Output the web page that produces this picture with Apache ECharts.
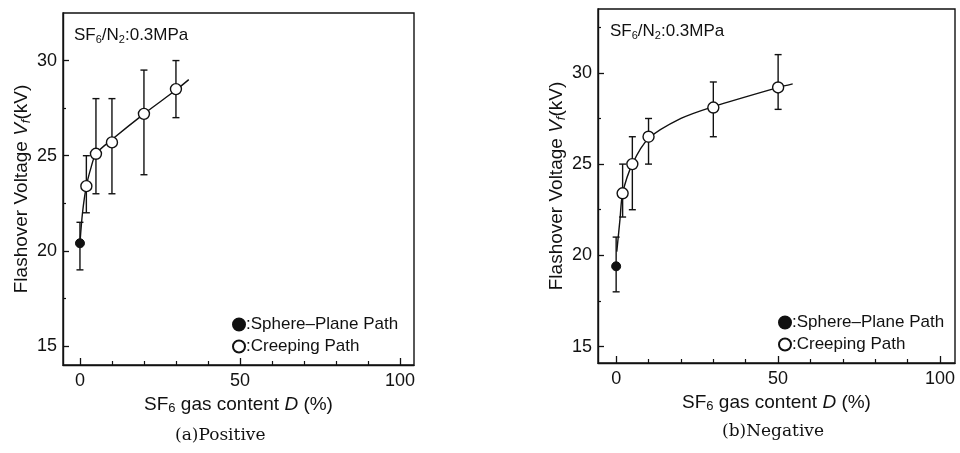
<!DOCTYPE html>
<html>
<head>
<meta charset="utf-8">
<script src="https://cdn.jsdelivr.net/npm/echarts@6/dist/echarts.min.js"></script>
<style>html,body{margin:0;padding:0;background:#fff}#c{width:960px;height:453px}</style>
</head>
<body>
<div id="c"></div>
<script>
// ---- data: (a) Positive ----
const posSphereX = [0];
const posSphereY = [20.4];
const posSphereLow = [19.0];
const posSphereHigh = [21.5];
const posCreepX = [2, 5, 10, 20, 30];
const posCreepY = [23.4, 25.1, 25.7, 27.2, 28.5];
const posCreepLow = [22.0, 23.0, 23.0, 24.0, 27.0];
const posCreepHigh = [25.0, 28.0, 28.0, 29.5, 30.0];
const posFitX = [0, 0.8, 2, 3.5, 5, 10, 20, 30, 34];
const posFitY = [20.4, 22.0, 23.4, 24.4, 25.1, 25.85, 27.2, 28.45, 29.0];
// ---- data: (b) Negative ----
const negSphereX = [0];
const negSphereY = [19.4];
const negSphereLow = [18.0];
const negSphereHigh = [21.0];
const negCreepX = [2, 5, 10, 30, 50];
const negCreepY = [23.4, 25.0, 26.5, 28.1, 29.2];
const negCreepLow = [22.1, 22.5, 25.0, 26.5, 28.0];
const negCreepHigh = [25.0, 26.5, 27.5, 29.5, 31.0];
const negFitX = [0.2, 1.2, 2, 5, 10, 20, 30, 50, 54.5];
const negFitY = [20.2, 22.0, 23.4, 25.0, 26.4, 27.5, 28.15, 29.2, 29.4];
// ---- ticks ----
const xMajorTicks = [0, 50, 100];
const xMinorTicks = [10, 20, 30, 40, 60, 70, 80, 90];
const yMajorTicks = [15, 20, 25, 30];
const yMinorTicksPos = [17.5, 22.5, 27.5];
const yMinorTicksNeg = [17.5, 22.5, 27.5, 32.5];
const sphereName = ':Sphere\u2013Plane Path';
const creepName = ':Creeping Path';

const FONT = 'Liberation Sans';
const INK = '#111';

const zip = (a, b) => a.map((v, i) => [v, b[i]]);
const zip3 = (a, b, c) => a.map((v, i) => [v, b[i], c[i]]);

const richName = {
  n: {fontSize: 19, fontFamily: FONT, color: INK},
  i: {fontSize: 19, fontFamily: FONT, color: INK, fontStyle: 'italic'},
  s: {fontSize: 13, fontFamily: FONT, color: INK, padding: [9, 0, 0, 0]},
  si: {fontSize: 13, fontFamily: FONT, color: INK, fontStyle: 'italic', padding: [9, 0, 0, 0]}
};

function mainX(g, min, max, gap) {
  return {
    type: 'value', gridIndex: g, min: min, max: max, position: 'bottom',
    axisLine: {show: true, onZero: false, lineStyle: {color: INK, width: 1.4}},
    axisTick: {show: true, inside: true, length: 7, customValues: xMajorTicks, lineStyle: {color: INK, width: 1.3}},
    axisLabel: {show: true, customValues: xMajorTicks, color: INK, fontSize: 18, fontFamily: FONT, margin: 7},
    splitLine: {show: false},
    name: '{n|SF}{s|6}{n| gas content }{i|D}{n| (%)}',
    nameLocation: 'middle', nameGap: gap,
    nameTextStyle: {rich: richName}
  };
}
function minorX(g, min, max) {
  return {
    type: 'value', gridIndex: g, min: min, max: max, position: 'bottom',
    axisLine: {show: false, onZero: false},
    axisTick: {show: true, inside: true, length: 4, customValues: xMinorTicks, lineStyle: {color: INK, width: 1.2}},
    axisLabel: {show: false}, splitLine: {show: false}
  };
}
function mainY(g, min, max, gap) {
  return {
    type: 'value', gridIndex: g, min: min, max: max, position: 'left',
    axisLine: {show: true, onZero: false, lineStyle: {color: INK, width: 1.4}},
    axisTick: {show: true, inside: true, length: 6, customValues: yMajorTicks, lineStyle: {color: INK, width: 1.3}},
    axisLabel: {show: true, customValues: yMajorTicks, color: INK, fontSize: 18, fontFamily: FONT, margin: 6},
    splitLine: {show: false},
    name: '{n|Flashover Voltage }{i|V}{si|f}{n|(kV)}',
    nameLocation: 'middle', nameGap: gap, nameRotate: 90,
    nameTextStyle: {rich: richName}
  };
}
function minorY(g, min, max, ticks) {
  return {
    type: 'value', gridIndex: g, min: min, max: max, position: 'left',
    axisLine: {show: false, onZero: false},
    axisTick: {show: true, inside: true, length: 3, customValues: ticks, lineStyle: {color: INK, width: 1.2}},
    axisLabel: {show: false}, splitLine: {show: false}
  };
}

function errSeries(xi, yi, data) {
  return {
    type: 'custom', xAxisIndex: xi, yAxisIndex: yi, z: 3, silent: true,
    data: data, encode: {x: 0, y: [1, 2]},
    renderItem: function (params, api) {
      const x = api.value(0);
      const lo = api.coord([x, api.value(1)]);
      const hi = api.coord([x, api.value(2)]);
      const w = 3.5;
      const st = {stroke: INK, lineWidth: 1.4};
      return {type: 'group', children: [
        {type: 'line', shape: {x1: lo[0], y1: lo[1], x2: hi[0], y2: hi[1]}, style: st},
        {type: 'line', shape: {x1: lo[0] - w, y1: lo[1], x2: lo[0] + w, y2: lo[1]}, style: st},
        {type: 'line', shape: {x1: hi[0] - w, y1: hi[1], x2: hi[0] + w, y2: hi[1]}, style: st}
      ]};
    }
  };
}
function fitSeries(xi, yi, data) {
  return {type: 'line', xAxisIndex: xi, yAxisIndex: yi, data: data, smooth: 0.3,
    showSymbol: false, symbol: 'none', z: 2, silent: true, lineStyle: {color: INK, width: 1.4}};
}
function sphereSeries(xi, yi, data) {
  return {type: 'scatter', name: sphereName, xAxisIndex: xi, yAxisIndex: yi, data: data, symbol: 'circle',
    symbolSize: 9, z: 5, silent: true, itemStyle: {color: INK, borderColor: INK, borderWidth: 1, opacity: 1}};
}
function creepSeries(xi, yi, data) {
  return {type: 'scatter', name: creepName, xAxisIndex: xi, yAxisIndex: yi, data: data, symbol: 'circle',
    symbolSize: 11, z: 5, silent: true, itemStyle: {color: '#fff', borderColor: INK, borderWidth: 1.4, opacity: 1}};
}
function legendAt(left, top) {
  return {
    left: left, top: top, orient: 'vertical', itemWidth: 12, itemHeight: 12, itemGap: 5,
    selectedMode: false, icon: 'circle',
    textStyle: {fontSize: 17, fontFamily: FONT, color: INK, padding: [0, 0, 0, -4]},
    data: [sphereName, creepName]
  };
}
function annot(x, y) {
  return {type: 'text', left: x, top: y, z: 10, style: {
    text: '{n|SF}{s|6}{n|/N}{s|2}{n|:0.3MPa}',
    rich: {
      n: {fontSize: 17, fontFamily: FONT, fill: INK},
      s: {fontSize: 11, fontFamily: FONT, fill: INK, padding: [8, 0, 0, 0]}
    }
  }};
}

const chart = echarts.init(document.getElementById('c'), null, {renderer: 'canvas'});
chart.setOption({
  animation: false,
  backgroundColor: '#fff',
  grid: [
    {left: 63, top: 13, width: 351, height: 352, show: true, borderColor: INK, borderWidth: 1.4, containLabel: false},
    {left: 598, top: 9, width: 357, height: 354, show: true, borderColor: INK, borderWidth: 1.4, containLabel: false}
  ],
  xAxis: [mainX(0, -5.3, 104.4, 27), minorX(0, -5.3, 104.4), mainX(1, -5.6, 104.6, 25), minorX(1, -5.6, 104.6)],
  yAxis: [mainY(0, 14.0, 32.5, 30), minorY(0, 14.0, 32.5, yMinorTicksPos), mainY(1, 14.1, 33.5, 28), minorY(1, 14.1, 33.5, yMinorTicksNeg)],
  legend: [legendAt(227, 311), legendAt(773, 309)],
  series: [
    fitSeries(0, 0, zip(posFitX, posFitY)),
    errSeries(0, 0, zip3(posSphereX, posSphereLow, posSphereHigh)),
    errSeries(0, 0, zip3(posCreepX, posCreepLow, posCreepHigh)),
    sphereSeries(0, 0, zip(posSphereX, posSphereY)),
    creepSeries(0, 0, zip(posCreepX, posCreepY)),
    fitSeries(2, 2, zip(negFitX, negFitY)),
    errSeries(2, 2, zip3(negSphereX, negSphereLow, negSphereHigh)),
    errSeries(2, 2, zip3(negCreepX, negCreepLow, negCreepHigh)),
    sphereSeries(2, 2, zip(negSphereX, negSphereY)),
    creepSeries(2, 2, zip(negCreepX, negCreepY))
  ],
  graphic: [
    annot(74, 27),
    annot(610, 23),
    {type: 'text', left: 175, top: 427, style: {text: '(a)Positive', fontSize: 17, fontFamily: 'DejaVu Serif', fill: INK}},
    {type: 'text', left: 722, top: 423, style: {text: '(b)Negative', fontSize: 17, fontFamily: 'DejaVu Serif', fill: INK}}
  ]
});
</script>
</body>
</html>
